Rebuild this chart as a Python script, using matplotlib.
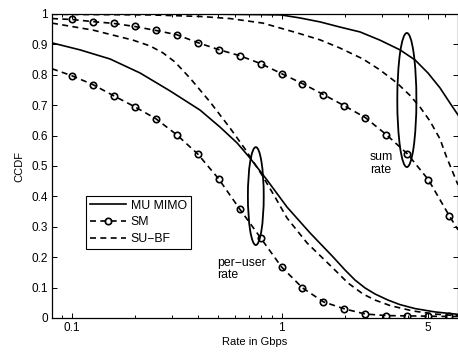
import numpy as np
import matplotlib
matplotlib.use("Agg")
import matplotlib.pyplot as plt
from matplotlib.patches import Ellipse
from matplotlib.ticker import FixedLocator, NullFormatter

plt.rcParams['font.family'] = ['Liberation Sans', 'DejaVu Sans']
plt.rcParams['font.size'] = 8.5

# rate grid where the SM markers sit (0.1 decade apart), plus the two ends
sm_x = [0.0805, 0.1, 0.1259, 0.1585, 0.1995, 0.2512, 0.3162, 0.3981, 0.5012, 0.631,
        0.7943, 1.0, 1.259, 1.585, 1.995, 2.512, 3.162, 3.981, 5.012, 6.31, 6.94]
# SM, sum rate
sm_sum = [0.985, 0.982, 0.975, 0.969, 0.959, 0.946, 0.932, 0.906, 0.883, 0.863, 0.837,
          0.804, 0.771, 0.735, 0.698, 0.659, 0.603, 0.540, 0.455, 0.336, 0.29]
# SM, per-user rate
sm_user = [0.82, 0.797, 0.768, 0.731, 0.695, 0.656, 0.603, 0.540, 0.458, 0.359, 0.264,
           0.168, 0.099, 0.053, 0.030, 0.013, 0.008, 0.007, 0.006, 0.005, 0.005]

# MU MIMO, per-user rate
mu_user_x = [0.0805, 0.1095, 0.1523, 0.2116, 0.2941, 0.4088, 0.5092, 0.6137, 0.7078,
             0.8529, 1.062, 1.367, 1.76, 2.007, 2.24, 2.5, 2.791, 3.218, 3.671,
             4.328, 5.39, 6.94]
mu_user = [0.905, 0.882, 0.852, 0.806, 0.747, 0.684, 0.628, 0.576, 0.526,
           0.454, 0.365, 0.280, 0.201, 0.158, 0.125, 0.099, 0.079, 0.059, 0.044,
           0.031, 0.020, 0.012]

# SU-BF, per-user rate
su_user_x = [0.0805, 0.1263, 0.196, 0.2361, 0.2723, 0.3107, 0.3664, 0.4561, 0.5681,
             0.6699, 0.8073, 0.9311, 1.062, 1.323, 1.76, 2.075, 2.446, 2.791, 3.29,
             4.235, 5.39, 6.94]
su_user = [0.970, 0.947, 0.914, 0.895, 0.872, 0.842, 0.789, 0.711, 0.625,
           0.556, 0.470, 0.398, 0.329, 0.247, 0.164, 0.115, 0.079, 0.059, 0.041,
           0.023, 0.013, 0.007]

# MU MIMO, sum rate
mu_sum_x = [0.0805, 0.4088, 0.79, 0.995, 1.225, 1.526, 1.90, 2.367, 2.947, 3.671,
            4.328, 4.99, 5.695, 6.357, 6.94]
mu_sum = [1.0, 1.0, 0.998, 0.997, 0.987, 0.974, 0.957, 0.941, 0.914, 0.882,
          0.849, 0.806, 0.757, 0.707, 0.668]

# SU-BF, sum rate
su_sum_x = [0.0805, 0.236, 0.4088, 0.568, 0.816, 1.186, 1.526, 1.90, 2.446, 2.947,
            3.553, 4.099, 4.572, 5.10, 5.695, 6.115, 6.94]
su_sum = [0.999, 0.997, 0.992, 0.985, 0.970, 0.938, 0.915, 0.888, 0.852, 0.816,
          0.773, 0.732, 0.694, 0.648, 0.589, 0.530, 0.438]

fig = plt.figure(figsize=(4.58, 3.52), dpi=100)
ax = fig.add_axes([52 / 458, 1 - 318 / 352, 406 / 458, 304 / 352])

dash = (0, (3.6, 2.6))
lw = 1.2
ax.plot(mu_user_x, mu_user, color='k', lw=lw, label='MU MIMO')
ax.plot(sm_x, sm_user, color='k', lw=lw, ls=dash, marker='o', ms=4.6, mfc='none',
        mew=1.2, markevery=slice(1, -1), label='SM')
ax.plot(su_user_x, su_user, color='k', lw=lw, ls=dash, label='SU\u2212BF')
ax.plot(mu_sum_x, mu_sum, color='k', lw=lw)
ax.plot(sm_x, sm_sum, color='k', lw=lw, ls=dash, marker='o', ms=4.6, mfc='none',
        mew=1.2, markevery=slice(1, -1))
ax.plot(su_sum_x, su_sum, color='k', lw=lw, ls=dash)

ax.set_xscale('log')
ax.set_xlim(0.0805, 6.94)
ax.set_ylim(0, 1)
ax.set_xticks([0.1, 1, 5])
ax.set_xticklabels(['0.1', '1', '5'])
ax.xaxis.set_minor_locator(FixedLocator([0.09, 0.2, 0.3, 0.4, 0.5, 0.6, 0.7, 0.8, 0.9,
                                         2, 3, 4, 6]))
ax.xaxis.set_minor_formatter(NullFormatter())
yt = np.round(np.arange(0, 1.01, 0.1), 1)
ax.set_yticks(yt)
ax.set_yticklabels(['0' if v == 0 else ('1' if v == 1 else f'{v:.1f}') for v in yt])
ax.tick_params(which='both', direction='in', top=True, right=True, width=0.7)
ax.tick_params(which='major', length=3.5, pad=3, labelsize=8.5)
ax.tick_params(which='minor', length=2)
for s in ax.spines.values():
    s.set_linewidth(0.9)

ax.set_xlabel('Rate in Gbps', labelpad=2, fontsize=8)
ax.set_ylabel('CCDF', labelpad=5, fontsize=8)

# ellipses marking the two groups of curves
ax.add_patch(Ellipse((0.874, 0.717), 0.047, 0.441, transform=ax.transAxes,
                     fill=False, lw=1.3, ec='k'))
ax.add_patch(Ellipse((0.502, 0.401), 0.039, 0.322, transform=ax.transAxes,
                     fill=False, lw=1.3, ec='k'))
ax.text(0.783, 0.548, 'sum\nrate', transform=ax.transAxes, va='top', ha='left',
        linespacing=1.05, fontsize=8.8)
ax.text(0.406, 0.202, 'per\u2212user\nrate', transform=ax.transAxes, va='top', ha='left',
        linespacing=1.05, fontsize=8.8)

leg = ax.legend(loc='lower left', bbox_to_anchor=(0.084, 0.227), borderaxespad=0,
                fancybox=False, edgecolor='k', framealpha=1, handlelength=3.0,
                handletextpad=0.35, labelspacing=0.4, borderpad=0.3, fontsize=8.8)
leg.get_frame().set_linewidth(0.8)

fig.savefig('out.png', dpi=100)
